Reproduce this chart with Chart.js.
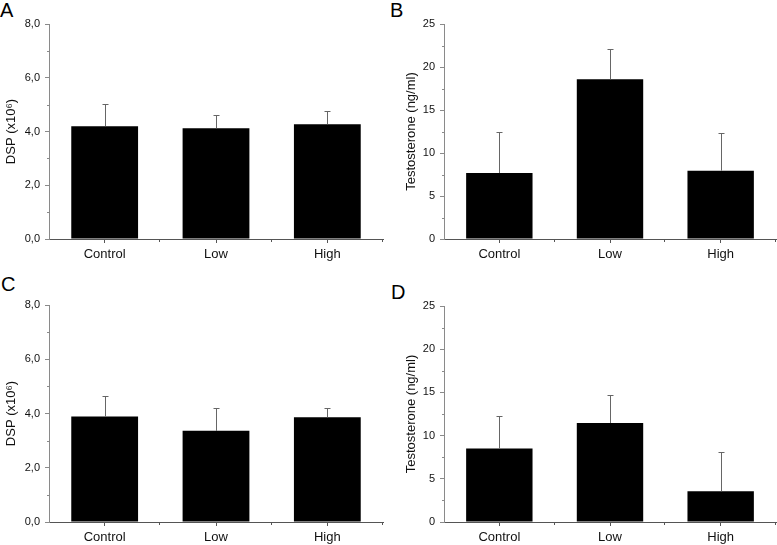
<!DOCTYPE html>
<html>
<head>
<meta charset="utf-8">
<script src="https://cdn.jsdelivr.net/npm/chart.js@4.4.1/dist/chart.umd.min.js"></script>
<style>
  html, body { margin:0; padding:0; background:#fff; }
  body { width:777px; height:545px; position:relative; overflow:hidden; font-family:"Liberation Sans", Arial, sans-serif; }
  canvas { position:absolute; }
  .letter { position:absolute; font-size:20px; color:#000; line-height:1; }
</style>
</head>
<body>
<div class="letter" style="left:0px;top:0px;">A</div>
<div class="letter" style="left:390px;top:0px;">B</div>
<div class="letter" style="left:1px;top:274px;">C</div>
<div class="letter" style="left:391px;top:282px;">D</div>
<canvas id="chartA" width="388" height="270" style="left:0px;top:0px;"></canvas>
<canvas id="chartB" width="387" height="270" style="left:390px;top:0px;"></canvas>
<canvas id="chartC" width="388" height="275" style="left:0px;top:270px;"></canvas>
<canvas id="chartD" width="387" height="275" style="left:390px;top:270px;"></canvas>
<script>
var groups = ['Control', 'Low', 'High'];

// panel A - DSP
var dspA = [4.20, 4.12, 4.27];
var dspAErr = [0.82, 0.50, 0.51];
// panel B - testosterone
var testoB = [7.67, 18.57, 7.95];
var testoBErr = [4.83, 3.49, 4.35];
// panel C - DSP
var dspC = [3.89, 3.36, 3.86];
var dspCErr = [0.74, 0.84, 0.36];
// panel D - testosterone
var testoD = [8.50, 11.46, 3.55];
var testoDErr = [3.77, 3.29, 4.55];

var dspAxis = {max: 8, step: 2, minor: 1, title: 'DSP (x10\u2076)'};
var testoAxis = {max: 25, step: 5, minor: 2.5, title: 'Testosterone (ng/ml)'};

var FONT = '"Liberation Sans", Arial, sans-serif';
var AXIS_X = '#555';
var AXIS_Y = '#8a8a8a';

// ---------- error bars (upper only) + minor ticks ----------
var extrasPlugin = {
    id: 'extras',
    afterDatasetsDraw: function(chart) {
        var ctx = chart.ctx;
        var y = chart.scales.y;
        var errs = chart.options.plugins.extras.errs;
        var vals = chart.data.datasets[0].data;
        var meta = chart.getDatasetMeta(0);
        ctx.save();
        ctx.strokeStyle = '#666';
        ctx.lineWidth = 1;
        meta.data.forEach(function(bar, i) {
            var top = Math.round(y.getPixelForValue(vals[i] + errs[i])) + 0.5;
            var bx = Math.round(bar.x) + 0.5;
            ctx.beginPath();
            ctx.moveTo(bx, bar.y);
            ctx.lineTo(bx, top);
            ctx.moveTo(bx - 3, top);
            ctx.lineTo(bx + 3, top);
            ctx.stroke();
        });
        ctx.restore();
    },
    afterDraw: function(chart) {
        var ctx = chart.ctx;
        var y = chart.scales.y;
        var o = chart.options.plugins.extras;
        var area = chart.chartArea;
        ctx.save();
        ctx.lineWidth = 1;
        // minor y ticks
        ctx.strokeStyle = AXIS_Y;
        for (var v = o.minor; v < o.max; v += o.step) {
            var py = Math.round(y.getPixelForValue(v)) + 0.5;
            ctx.beginPath();
            ctx.moveTo(area.left - 2, py);
            ctx.lineTo(area.left, py);
            ctx.stroke();
        }
        // minor x ticks between groups
        ctx.strokeStyle = AXIS_X;
        var w = (area.right - area.left) / groups.length;
        for (var k = 1; k <= groups.length; k++) {
            var px = Math.round(area.left + k * w) - 0.5;
            ctx.beginPath();
            ctx.moveTo(px, area.bottom);
            ctx.lineTo(px, area.bottom + 3);
            ctx.stroke();
        }
        ctx.restore();
    }
};

function makeChart(id, values, errs, axis, box) {
    var fmt = axis.max < 10 ? function(v) { return v.toFixed(1).replace('.', ','); }
                            : function(v) { return String(v); };
    return new Chart(document.getElementById(id).getContext('2d'), {
        type: 'bar',
        data: {
            labels: groups,
            datasets: [{
                data: values,
                backgroundColor: '#000',
                borderWidth: 0,
                categoryPercentage: 1.0,
                barPercentage: 0.6
            }]
        },
        options: {
            responsive: false,
            animation: false,
            layout: { padding: { top: box.top, right: box.right, left: 0, bottom: 0 } },
            plugins: {
                legend: { display: false },
                tooltip: { enabled: false },
                extras: { errs: errs, max: axis.max, step: axis.step, minor: axis.minor }
            },
            scales: {
                x: {
                    grid: { drawOnChartArea: false, offset: false, tickLength: 4, color: AXIS_X },
                    border: { color: AXIS_X, width: 1 },
                    ticks: { color: '#111', padding: 4, font: { family: FONT, size: 13 } },
                    afterFit: function(s) { s.height = box.xh; }
                },
                y: {
                    min: 0,
                    max: axis.max,
                    grid: { drawOnChartArea: false, tickLength: 4, color: AXIS_Y },
                    border: { color: AXIS_Y, width: 1 },
                    ticks: {
                        stepSize: axis.step,
                        color: '#111',
                        padding: 5,
                        font: { family: FONT, size: 11 },
                        callback: function(v) { return fmt(v); }
                    },
                    title: {
                        display: true,
                        text: axis.title,
                        color: '#111',
                        font: { family: FONT, size: 13 },
                        padding: { top: box.tpad, bottom: 0 }
                    },
                    afterFit: function(s) { s.width = box.yw; }
                }
            }
        },
        plugins: [extrasPlugin]
    });
}

makeChart('chartA', dspA, dspAErr, dspAxis, {top: 24, right: 5, xh: 31, yw: 49, tpad: 4});
makeChart('chartB', testoB, testoBErr, testoAxis, {top: 24, right: 1, xh: 31, yw: 54, tpad: 14});
makeChart('chartC', dspC, dspCErr, dspAxis, {top: 35, right: 5, xh: 23, yw: 49, tpad: 4});
makeChart('chartD', testoD, testoDErr, testoAxis, {top: 36, right: 1, xh: 23, yw: 54, tpad: 14});
</script>
</body>
</html>
